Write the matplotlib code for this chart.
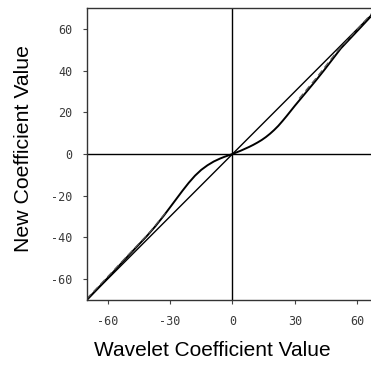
import matplotlib
matplotlib.use("Agg")
import matplotlib.pyplot as plt

# identity line
ident_x = [-70, 70]
ident_y = [-70, 70]

# estimated shrinkage curve
curve_x = [-70, -64, -58, -52, -46, -41, -37, -33, -30, -27, -24, -21, -18, -15, -12, -9, -6, -4, -2, 0,
           2, 4, 6, 8, 10, 12, 14, 16, 18, 20, 22, 24, 26, 28, 30, 33, 36, 40, 44, 48, 52, 57, 62, 66]
curve_y = [-70, -63.7, -57.4, -50.9, -44.5, -39.2, -34.6, -29.6, -25.6, -21.6, -17.6, -13.8, -10.4, -7.6,
           -5.4, -3.6, -2.2, -1.4, -0.7, 0,
           0.8, 1.6, 2.5, 3.4, 4.4, 5.5, 6.7, 8.1, 9.7, 11.5, 13.5, 15.8, 18.2, 20.7, 23.2, 26.8, 30.4,
           35.2, 40.2, 45.4, 50.6, 55.9, 61.2, 65.5]

# dashed companion curve (large |x| only)
dash_neg_x = [-70, -60, -50, -40, -32]
dash_neg_y = [-69.4, -58.9, -48.3, -37.8, -28.0]
dash_pos_x = [32, 40, 50, 60, 67]
dash_pos_y = [26.6, 36.2, 48.9, 59.9, 67.6]

xticks = [-60, -30, 0, 30, 60]
yticks = [-60, -40, -20, 0, 20, 40, 60]

fig = plt.figure(figsize=(3.71, 3.65), dpi=100)
ax = fig.add_axes([86.7/371, 1 - 300/365, 1 - 86.7/371, (300 - 8)/365])

ax.plot(ident_x, ident_y, color="black", lw=1.0)
ax.plot(curve_x, curve_y, color="black", lw=1.4)
ax.plot(dash_neg_x, dash_neg_y, color="#555555", lw=0.9, ls=(0, (5, 3)))
ax.plot(dash_pos_x, dash_pos_y, color="#555555", lw=0.9, ls=(0, (5, 3)))
ax.axhline(0, color="black", lw=1.0)
ax.axvline(0, color="black", lw=1.0)

ax.set_xlim(-70, 66.5)
ax.set_ylim(-70, 70)
ax.set_xticks(xticks)
ax.set_yticks(yticks)
ax.set_xticklabels([str(t) for t in xticks], family="DejaVu Sans Mono", fontsize=8.5, color="#3a3a3a")
ax.set_yticklabels([str(t) for t in yticks], family="DejaVu Sans Mono", fontsize=8.5, color="#3a3a3a")
ax.tick_params(axis="x", direction="out", length=3, width=0.8, color="#444444", pad=8)
ax.tick_params(axis="y", direction="out", length=3, width=0.8, color="#444444", pad=7)

for side in ["left", "bottom", "top"]:
    ax.spines[side].set_color("#333333")
    ax.spines[side].set_linewidth(1.0)
ax.spines["right"].set_visible(False)

fig.text(212/371, 1 - 350/365, "Wavelet Coefficient Value", family="Liberation Sans",
         fontsize=15, ha="center", va="center")
fig.text(24/371, 1 - 148.5/365, "New Coefficient Value", family="Liberation Sans",
         fontsize=15.3, ha="center", va="center", rotation=90)

fig.savefig("out.png", dpi=100)
